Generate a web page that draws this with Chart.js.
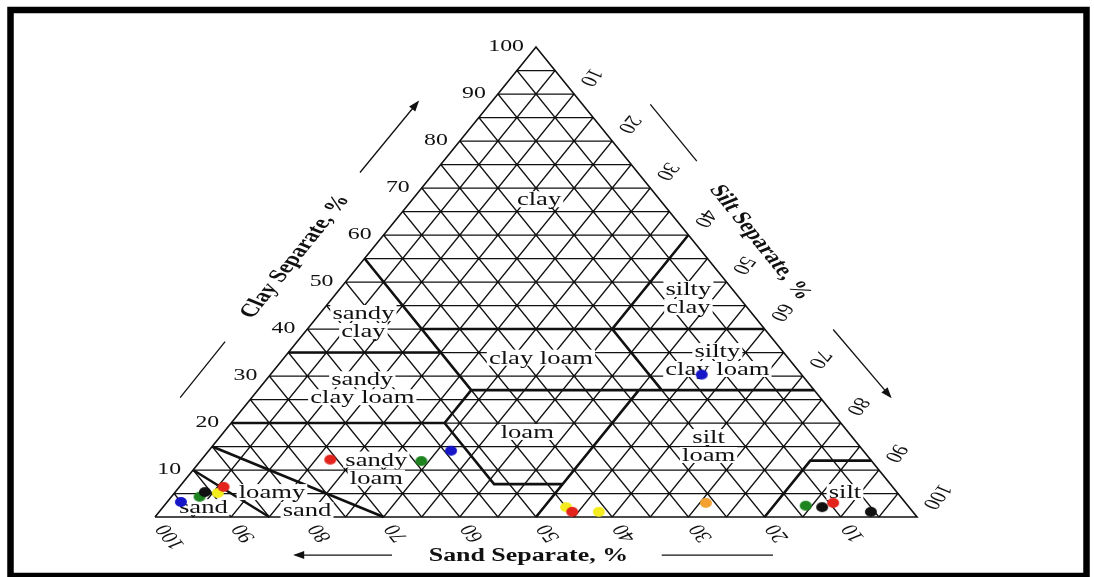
<!DOCTYPE html>
<html>
<head>
<meta charset="utf-8">
<script src="https://cdn.jsdelivr.net/npm/chart.js@4.4.1/dist/chart.umd.min.js"></script>
<style>
  html, body { margin: 0; padding: 0; background: #fff; }
  canvas { display: block; }
</style>
</head>
<body>
<canvas id="soil" width="1094" height="577"></canvas>
<script>
// ---- Grid spacing and tick labels (percent) ----
const gridSteps = [5, 10, 15, 20, 25, 30, 35, 40, 45, 50, 55, 60, 65, 70, 75, 80, 85, 90, 95];
const tickValues = [10, 20, 30, 40, 50, 60, 70, 80, 90, 100];

// ---- Samples: sand % and clay % per series (silt is the remainder) ----
const redSand    = [70.9, 87.8, 44.7, 9.5];
const redClay    = [12.2, 6.4, 1.1, 3.0];
const yellowSand = [89.2, 45.0, 41.2];
const yellowClay = [5.1, 2.1, 1.1];
const blackSand  = [90.8, 11.4, 5.5];
const blackClay  = [5.3, 2.1, 1.1];
const greenSand  = [59.1, 92.0, 13.4];
const greenClay  = [11.9, 4.3, 2.4];
const blueSand   = [54.1, 13.1, 95.0];
const blueClay   = [14.1, 30.3, 3.2];
const orangeSand = [26.2];
const orangeClay = [3.0];

// ---- USDA texture class boundaries, polylines of [sand, clay] ----
const classBoundaries = [
  [[85, 0], [90, 10]],
  [[70, 0], [85, 15]],
  [[80, 20], [52, 20], [45, 27], [0, 27]],
  [[52, 20], [52, 7], [43, 7]],
  [[50, 0], [23, 27]],
  [[65, 35], [45, 35]],
  [[45, 55], [45, 27]],
  [[45, 40], [0, 40]],
  [[20, 27], [20, 40], [0, 60]],
  [[20, 0], [8, 12], [0, 12]]
];

// ---- Texture class names, anchored at [sand, clay] ----
const classLabels = [
  { lines: ['clay'], sand: 15.8, clay: 67.6 },
  { lines: ['silty', 'clay'], sand: 6.7, clay: 46.6 },
  { lines: ['sandy', 'clay'], sand: 51.9, clay: 41.5 },
  { lines: ['clay loam'], sand: 32.4, clay: 33.9 },
  { lines: ['silty', 'clay loam'], sand: 9.5, clay: 33.4 },
  { lines: ['sandy', 'clay loam'], sand: 59.1, clay: 27.4 },
  { lines: ['loam'], sand: 42.1, clay: 18.1 },
  { lines: ['silt', 'loam'], sand: 19.8, clay: 15.1 },
  { lines: ['sandy', 'loam'], sand: 65.8, clay: 10.3 },
  { lines: ['loamy'], sand: 82.0, clay: 5.3 },
  { lines: ['sand'], sand: 79.3, clay: 1.5 },
  { lines: ['sand'], sand: 92.6, clay: 2.1 },
  { lines: ['silt'], sand: 6.8, clay: 5.3 }
];

const SX = 1.4;                      // horizontal stretch of the figure
const SERIF = '"Liberation Serif", "Times New Roman", serif';
const INK = '#111';

// sand/clay -> plot coordinates (x runs from 100 % sand to 100 % silt, y is clay)
function tern(sand, clay) { return { x: 100 - sand - clay / 2, y: clay }; }
const GAP = { x: null, y: null };

// thin 5 % mesh for the three fractions
const meshData = [];
gridSteps.forEach(g => {
  meshData.push({ x: g / 2, y: g }, { x: 100 - g / 2, y: g }, GAP);           // clay
  meshData.push({ x: 100 - g, y: 0 }, { x: (100 - g) / 2, y: 100 - g }, GAP); // sand
  meshData.push({ x: g, y: 0 }, { x: g + (100 - g) / 2, y: 100 - g }, GAP);   // silt
});

const boundaryData = [];
classBoundaries.forEach(line => {
  line.forEach(p => boundaryData.push(tern(p[0], p[1])));
  boundaryData.push(GAP);
});

const outlineData = [tern(100, 0), tern(0, 0), tern(0, 100), tern(100, 0)];

function makeDot(color) {
  const c = document.createElement('canvas');
  c.width = 14; c.height = 12;
  const g = c.getContext('2d');
  g.fillStyle = color;
  g.beginPath();
  g.ellipse(7, 6, 6.0, 5.0, 0, 0, Math.PI * 2);
  g.fill();
  return c;
}

function series(label, sand, clay, color, order) {
  return {
    label, order, clip: false,
    data: sand.map((s, i) => tern(s, clay[i])),
    pointStyle: makeDot(color), pointRadius: 5, showLine: false
  };
}

function lineSet(label, data, width, order) {
  return {
    label, data, order, clip: false, showLine: true, spanGaps: false,
    borderColor: INK, borderWidth: width, pointRadius: 0, fill: false, tension: 0
  };
}

function stretchedText(ctx, text, x, y, angle, font, align) {
  ctx.save();
  ctx.translate(x, y);
  ctx.scale(SX, 1);
  ctx.rotate(angle);
  ctx.font = font;
  ctx.textAlign = align || 'center';
  ctx.textBaseline = 'middle';
  ctx.fillStyle = INK;
  ctx.fillText(text, 0, 0);
  ctx.restore();
}

function arrow(ctx, a, b, head) {
  ctx.save();
  ctx.strokeStyle = INK; ctx.fillStyle = INK; ctx.lineWidth = 1.3;
  ctx.beginPath(); ctx.moveTo(a.x, a.y); ctx.lineTo(b.x, b.y); ctx.stroke();
  if (head) {
    const ang = Math.atan2(b.y - a.y, b.x - a.x);
    ctx.translate(b.x, b.y); ctx.rotate(ang);
    ctx.beginPath(); ctx.moveTo(2, 0); ctx.lineTo(-9, -4); ctx.lineTo(-9, 4); ctx.closePath(); ctx.fill();
  }
  ctx.restore();
}

const texturePlugin = {
  id: 'texture',
  afterDatasetDraw(chart, args) {
    if (chart.data.datasets[args.index].label !== 'boundaries') return;
    const ctx = chart.ctx, xs = chart.scales.x, ys = chart.scales.y;
    const size = 19, lh = 18;
    classLabels.forEach(l => {
      const p = tern(l.sand, l.clay);
      const px = xs.getPixelForValue(p.x), py = ys.getPixelForValue(p.y);
      const top = py - (l.lines.length - 1) * lh / 2;
      l.lines.forEach((t, i) => {
        ctx.save();
        ctx.translate(px, top + i * lh);
        ctx.scale(SX, 1);
        ctx.font = size + 'px ' + SERIF;
        const w = ctx.measureText(t).width;
        ctx.fillStyle = '#fff';
        ctx.fillRect(-w / 2 - 1.5, -size * 0.42, w + 3, size * 0.84);
        ctx.fillStyle = INK; ctx.textAlign = 'center'; ctx.textBaseline = 'middle';
        ctx.fillText(t, 0, 1);
        ctx.restore();
      });
    });
  },
  afterDraw(chart) {
    const ctx = chart.ctx, xs = chart.scales.x, ys = chart.scales.y;
    const P = (x, y) => ({ x: xs.getPixelForValue(x), y: ys.getPixelForValue(y) });
    const tickFont = '17px ' + SERIF;
    ctx.font = tickFont;
    // clay ticks on the left edge
    tickValues.forEach(v => {
      const a = P(tern(100 - v, v).x, v);
      stretchedText(ctx, String(v), a.x - 12, a.y, 0, tickFont, 'right');
    });
    // silt ticks on the right edge, along the silt lines
    tickValues.forEach(v => {
      const t = tern(0, 100 - v);
      const a = P(t.x, t.y);
      ctx.font = tickFont;
      const d = 11 + ctx.measureText(String(v)).width / 2;
      stretchedText(ctx, String(v), a.x + d * 0.5 * SX + 3, a.y - d * 0.866, Math.PI * 2 / 3, tickFont);
    });
    // sand ticks on the base, along the sand lines
    tickValues.forEach(v => {
      const a = P(tern(v, 0).x, 0);
      ctx.font = tickFont;
      const d = 10 + ctx.measureText(String(v)).width / 2;
      stretchedText(ctx, String(v), a.x + d * 0.5 * SX, a.y + d * 0.866, -Math.PI * 2 / 3, tickFont);
    });

    // axis titles
    const titleFont = 'bold 18.5px ' + SERIF;
    let c = P(18.4, 55.4);
    stretchedText(ctx, 'Clay Separate, %', c.x, c.y, -Math.PI / 3, titleFont);
    c = P(79.4, 58.4);
    stretchedText(ctx, 'Silt Separate, %', c.x, c.y, Math.PI / 3, titleFont);
    c = P(49.0, -8.3);
    stretchedText(ctx, 'Sand Separate, %', c.x, c.y, 0, titleFont);

    // direction arrows and guide strokes
    arrow(ctx, P(26.9, 73.3), P(34.5, 88.3), true);
    arrow(ctx, P(3.3, 25.4), P(9.2, 37.3), false);
    arrow(ctx, P(65.0, 87.8), P(71.1, 75.7), false);
    arrow(ctx, P(89.0, 39.9), P(96.5, 25.6), true);
    arrow(ctx, P(31.1, -8.1), P(18.4, -8.1), true);
    arrow(ctx, P(66.5, -8.1), P(81.1, -8.1), false);

    // frame
    ctx.save();
    ctx.strokeStyle = '#000';
    ctx.lineWidth = 6.5;
    ctx.strokeRect(10.5, 10, 1076, 566);
    ctx.restore();
  }
};

new Chart(document.getElementById('soil'), {
  type: 'scatter',
  data: {
    datasets: [
      series('red', redSand, redClay, '#e3241d', 1),
      series('yellow', yellowSand, yellowClay, '#f4ec1e', 2),
      series('black', blackSand, blackClay, '#111111', 3),
      series('green', greenSand, greenClay, '#1d8420', 4),
      series('blue', blueSand, blueClay, '#1616c8', 5),
      series('orange', orangeSand, orangeClay, '#f3a232', 6),
      lineSet('boundaries', boundaryData, 2.6, 20),
      lineSet('outline', outlineData, 1.6, 21),
      lineSet('mesh', meshData, 1.25, 22)
    ]
  },
  options: {
    responsive: false,
    animation: false,
    events: [],
    layout: { padding: { left: 155, right: 177, top: 47, bottom: 60 } },
    scales: {
      x: { type: 'linear', min: 0, max: 100, display: false },
      y: { type: 'linear', min: 0, max: 100, display: false }
    },
    plugins: { legend: { display: false }, tooltip: { enabled: false } }
  },
  plugins: [texturePlugin]
});
</script>
</body>
</html>
